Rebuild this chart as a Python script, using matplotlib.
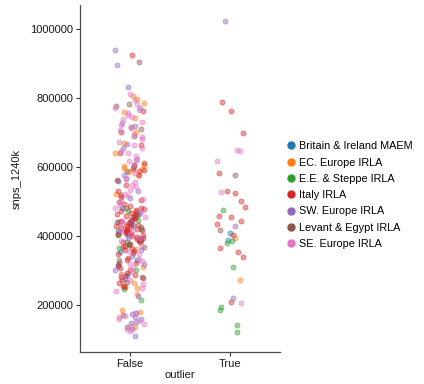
import numpy as np
import matplotlib
matplotlib.use("Agg")
import matplotlib.pyplot as plt
from matplotlib.lines import Line2D

plt.rcParams['font.family'] = ['Liberation Sans', 'DejaVu Sans']

groups = ["Britain & Ireland MAEM", "EC. Europe IRLA", "E.E. & Steppe IRLA",
          "Italy IRLA", "SW. Europe IRLA", "Levant & Egypt IRLA", "SE. Europe IRLA"]
colors = ["#1f77b4", "#ff7f0e", "#2ca02c", "#d62728", "#9467bd", "#8c564b", "#e377c2"]
categories = ["False", "True"]

# snps_1240k values, outlier == False
britain_f = [560000, 480000, 462000, 430000, 415000, 401000, 376000, 352000, 331000, 312000, 286000]
ec_f = [805000, 796000, 786000, 760000, 741000, 702000, 668000, 640000, 606000, 601000, 597000,
        593000, 590000, 586000, 575000, 521000, 471000, 431000, 405000, 361000, 311000, 290000,
        262000, 255000, 250000, 232000, 186000, 180000, 136000]
steppe_f = [471000, 446000, 421000, 401000, 386000, 381000, 374000, 366000, 301000, 245000, 215000]
italy_f = [925000, 761000, 701000, 664000, 641000, 611000, 604000, 598000, 592000, 587000, 576000,
           561000, 546000, 531000, 519000, 512000, 505000, 497000, 493000, 486000, 482000, 477000,
           475000, 471000, 467000, 465000, 463000, 459000, 457000, 454000, 452000, 451000, 447000,
           446000, 443000, 441000, 439000, 436000, 433000, 432000, 429000, 428000, 425000, 423000,
           421000, 420000, 417000, 416000, 413000, 412000, 409000, 408000, 405000, 404000, 401000,
           399000, 397000, 395000, 392000, 390000, 386000, 383000, 381000, 376000, 371000, 369000,
           363000, 360000, 356000, 349000, 346000, 337000, 331000, 321000, 316000, 307000, 301000,
           292000, 286000, 283000, 281000, 277000, 271000, 262000, 256000, 251000]
sw_f = [940000, 895000, 830000, 771000, 726000, 719000, 666000, 654000, 621000, 576000, 566000,
        531000, 511000, 469000, 441000, 411000, 394000, 359000, 341000, 319000, 301000, 276000,
        225000, 176000, 172000, 166000, 160000, 151000, 146000, 131000, 110000]
levant_f = [905000, 781000, 775000, 716000, 711000, 689000, 601000, 589000, 481000, 461000, 439000,
            426000, 391000, 369000, 331000, 321000, 281000, 266000, 171000, 135000]
se_f = [811000, 794000, 781000, 771000, 766000, 757000, 751000, 744000, 739000, 729000, 722000,
        714000, 706000, 694000, 687000, 681000, 671000, 664000, 656000, 647000, 639000, 631000,
        622000, 616000, 604000, 581000, 569000, 556000, 547000, 541000, 532000, 521000, 514000,
        507000, 501000, 489000, 481000, 469000, 456000, 444000, 436000, 424000, 416000, 406000,
        394000, 386000, 371000, 357000, 346000, 334000, 326000, 317000, 306000, 296000, 287000,
        271000, 259000, 249000, 241000, 176000, 169000, 164000, 159000, 153000, 144000, 139000,
        131000, 124000]

# outlier == True
britain_t = [408000, 388000]
ec_t = [393000, 272000]
steppe_t = [475000, 385000, 380000, 311000, 194000, 185000, 142000, 122000]
italy_t = [787000, 762000, 699000, 582000, 531000, 524000, 502000, 485000, 458000, 456000,
           444000, 435000, 403000, 366000, 354000, 338000, 207000]
sw_t = [1023000, 429000, 219000]
levant_t = [575000, 417000]
se_t = [646000, 648000, 618000, 527000, 205000]

values_false = [britain_f, ec_f, steppe_f, italy_f, sw_f, levant_f, se_f]
values_true = [britain_t, ec_t, steppe_t, italy_t, sw_t, levant_t, se_t]

fig = plt.figure(figsize=(4.24, 3.84), dpi=100)
ax = fig.add_axes([0.189, 0.084, 0.471, 0.902])

# strip plot jitter, like seaborn's stripplot
rng = np.random.default_rng(3)
jit = 0.15
for gi, (vf, vt) in enumerate(zip(values_false, values_true)):
    for ci, vals in enumerate([vf, vt]):
        if len(vals) == 0:
            continue
        xs = ci + rng.uniform(-jit, jit, len(vals))
        ax.scatter(xs, vals, s=13, color=colors[gi], alpha=0.45,
                   linewidths=0.7, edgecolors=colors[gi], zorder=2)

ax.set_xlim(-0.5, 1.5)
ax.set_ylim(64000, 1068000)
ax.set_xticks([0, 1])
ax.set_xticklabels(categories)
ax.set_yticks([200000, 400000, 600000, 800000, 1000000])
ax.set_yticklabels(["200000", "400000", "600000", "800000", "1000000"])
ax.tick_params(labelsize=8, length=3, width=0.8, pad=2, color='0.2', labelcolor='0.1')
ax.set_xlabel("outlier", fontsize=8, color='0.1', labelpad=1)
ax.set_ylabel("snps_1240k", fontsize=8, color='0.1', labelpad=6)
for side in ['top', 'right']:
    ax.spines[side].set_visible(False)
for side in ['left', 'bottom']:
    ax.spines[side].set_color('0.3')
    ax.spines[side].set_linewidth(0.9)

handles = [Line2D([], [], marker='o', linestyle='', markersize=5, color=c) for c in colors]
fig.legend(handles, groups, loc='center left', bbox_to_anchor=(0.645, 0.492),
           frameon=False, fontsize=7.8, handletextpad=0.1, labelspacing=0.58,
           handlelength=1.4)

fig.savefig("out.png", dpi=100)
